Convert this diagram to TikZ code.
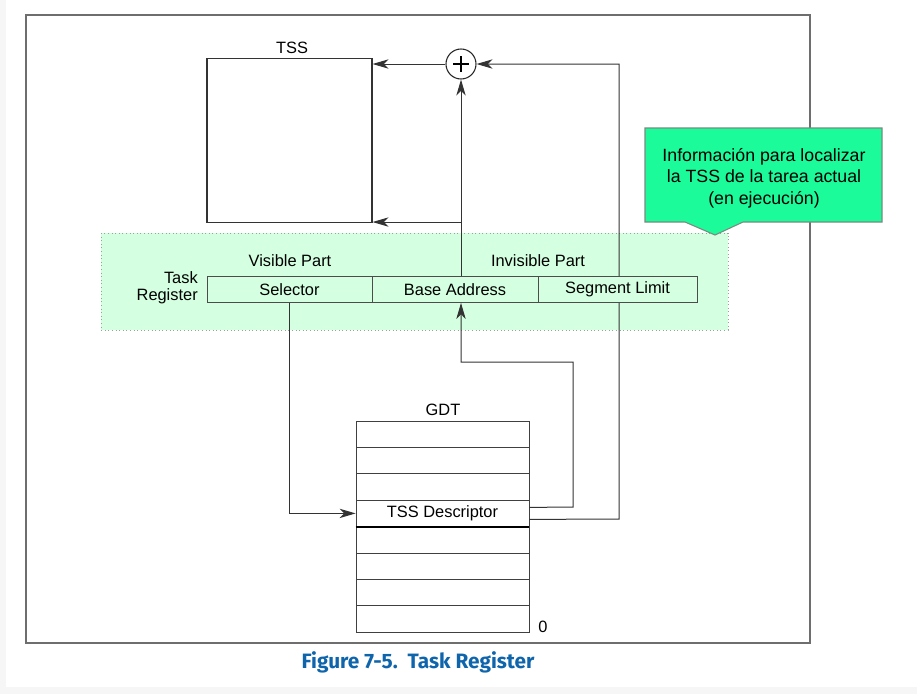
\documentclass[tikz,border=0pt]{standalone}
\usepackage{fontspec}
\setmainfont{Liberation Sans}
\newfontfamily\capfont{Fira Sans}
\usetikzlibrary{arrows.meta,calc}
\definecolor{regbg}{HTML}{D4FFE0}
\definecolor{regborder}{HTML}{8FA897}
\definecolor{callgreen}{HTML}{1CFB9A}
\definecolor{callborder}{HTML}{7A8A80}
\definecolor{pagegray}{HTML}{F6F6F6}
\definecolor{framegray}{HTML}{6E6E6E}
\definecolor{intelblue}{HTML}{0F65AC}
\definecolor{linec}{HTML}{333333}
\tikzset{
  arr/.style={draw=linec, line width=0.75pt, -{Stealth[length=12pt,width=7pt,inset=3.5pt]}},
  lbl/.style={inner sep=0pt, font=\fontsize{12.3}{12.75}\selectfont},
  regbox/.style={draw=black!70, line width=0.6pt, fill=regbg, minimum height=19.5pt, inner sep=0pt, font=\fontsize{12.3}{14}\selectfont},
  gdtrow/.style={draw=black!75, line width=0.6pt, fill=white, minimum width=129.75pt, minimum height=19.8pt, inner sep=0pt, font=\fontsize{12.3}{14}\selectfont},
}
\begin{document}
\begin{tikzpicture}[x=0.75pt,y=-0.75pt]
\fill[pagegray] (0,0) rectangle (917,694);
\fill[white] (6,0) rectangle (917,687);
\useasboundingbox (0,0) rectangle (917,694);
% frame
\draw[framegray, line width=1.1pt] (26,15) rectangle (810,643);
% task register region
\draw[regborder, fill=regbg, line width=0.7pt, dotted] (101,233) rectangle (728,330);
% TSS
\node[draw=black!80, line width=0.8pt, fill=white, minimum width=123.75pt, minimum height=123pt, inner sep=0pt] (tss) at (289.5,140.5) {};
\node[lbl] (tsslbl) at (292,48) {TSS};
% adder
\node[draw=black!85, line width=0.8pt, fill=white, circle, minimum size=22.5pt, inner sep=0pt] (plus) at (461,64) {};
\draw[line width=2pt] ($(plus.center)+(-8,0)$) -- ($(plus.center)+(8,0)$)
  ($(plus.center)+(0,-8)$) -- ($(plus.center)+(0,8)$);
\coordinate (bx) at (461,0);
\coordinate (lx) at (619,0);
% GDT rows
\foreach \i in {1,...,8} {
  \node[gdtrow] (g\i) at (442.5,{421+26.4*(\i-0.5)}) {};
}
\node[gdtrow] (g4) at (442.5,{421+26.4*3.5}) {TSS Descriptor};
\draw[black, line width=1.3pt] (g4.south west) -- (g4.south east);
\node[lbl] (gdtlbl) at (443,410) {GDT};
\node[lbl] (zero) at (543,627) {0};
% connectors behind register boxes
\coordinate (a1) at ($(bx |- tss.south)+(0,-1)$);
\draw[arr] (a1) -- (a1 -| tss.east);
\draw[arr] (plus.west) -- (plus.west -| tss.east);
\draw[arr] ($(g4.east)+(0,6)$) -- (lx |- 0,519) -- (lx |- plus.east) -- (plus.east);
\draw[arr] (bx |- 0,285) -- (plus.south);
% register boxes
\node[regbox, minimum width=123.75pt] (sel) at (289.5,289.5) {Selector};
\node[regbox, minimum width=124.5pt] (base) at (455,289.5) {Base Address};
\node[regbox, minimum width=119.25pt] (seg) at (617.5,289.5) {Segment Limit};
\draw[arr] ($(g4.east)+(0,-6)$) -- (573,507) -- (573,362) -- (bx |- 0,362) -- (bx |- base.south);
\draw[arr] (sel.south) |- (g4.west);
\node[lbl] (vis) at (290,261) {Visible Part};
\node[lbl] (invis) at (538,261) {Invisible Part};
\node[lbl, align=right, anchor=east] (trl) at (198,288) {Task\\Register};
% callout
\draw[callborder, fill=callgreen, line width=0.8pt] (645,128) -- (882,128) -- (882,222) -- (743,222) -- (715,235) -- (685,222) -- (645,222) -- cycle;
\node[inner sep=0pt, align=center, font=\fontsize{13.3}{16.2}\selectfont] (call) at (764,178) {Información para localizar\\la TSS de la tarea actual\\(en ejecución)};
% caption
\node[inner sep=0pt, text=intelblue, font=\capfont\bfseries\fontsize{15.6}{17}\selectfont] (cap) at (418,662) {Figure 7-5.\ \ Task Register};
\end{tikzpicture}
\end{document}
